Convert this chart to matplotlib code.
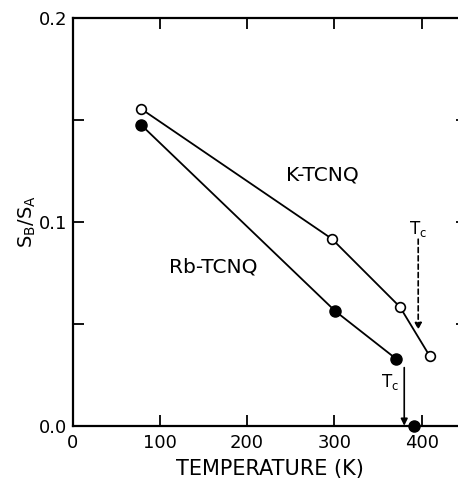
import matplotlib
matplotlib.use("Agg")
import matplotlib.pyplot as plt
from matplotlib.ticker import FixedLocator

# Data
k_temp = [78, 297, 375, 409]
k_ratio = [0.1556, 0.0917, 0.0583, 0.0343]
rb_temp = [79, 301, 371]
rb_ratio = [0.1474, 0.0562, 0.0327]
rb_tc_temp = [391]
rb_tc_ratio = [0.0]
tc_k = 396
tc_rb = 380
x_ticks = [0, 100, 200, 300, 400]
y_ticks = [0.0, 0.1, 0.2]
y_tick_labels = ["0.0", "0.1", "0.2"]
y_minor = [0.05, 0.15]

plt.rcParams['font.family'] = ['DejaVu Sans']
fig = plt.figure(figsize=(4.58, 4.86), dpi=100)
W, H = 458, 486
x0, x1 = 72.5, 467
y0, y1 = 425.7, 18
ax = fig.add_axes([x0 / W, 1 - y0 / H, (x1 - x0) / W, (y0 - y1) / H])
ax.set_xlim(0, (x1 - x0) / 0.873)
ax.set_ylim(0, 0.2)

ax.plot(k_temp, k_ratio, color='black', lw=1.3, marker='o', ms=7,
        mfc='white', mec='black', mew=1.2, zorder=3)
ax.plot(rb_temp, rb_ratio, color='black', lw=1.3, marker='o', ms=8,
        mfc='black', mec='black', zorder=3)
ax.plot(rb_tc_temp, rb_tc_ratio, ls='none', marker='o', ms=8,
        mfc='black', mec='black', zorder=4, clip_on=False)

# Tc arrows
ax.annotate('', xy=(tc_rb, 0.0), xytext=(tc_rb, 0.0285),
            arrowprops=dict(arrowstyle='-|>', color='black', lw=1.2,
                            mutation_scale=10, shrinkA=0, shrinkB=0))
ax.annotate('', xy=(tc_k, 0.0470), xytext=(tc_k, 0.0915),
            arrowprops=dict(arrowstyle='-|>', color='black', lw=1.2,
                            ls=(0, (3, 2)), mutation_scale=10,
                            shrinkA=0, shrinkB=0))
ax.text(tc_rb - 16, 0.0214, r'$\mathregular{T_c}$', fontsize=12,
        ha='center', va='center')
ax.text(tc_k, 0.0965, r'$\mathregular{T_c}$', fontsize=12,
        ha='center', va='center')

ax.text(286, 0.123, 'K-TCNQ', fontsize=14.5, ha='center', va='center')
ax.text(161, 0.078, 'Rb-TCNQ', fontsize=14.5, ha='center', va='center')

for s in ['left', 'bottom', 'top']:
    ax.spines[s].set_linewidth(1.6)
ax.spines['right'].set_visible(False)

ax.set_xticks(x_ticks)
ax.set_yticks(y_ticks)
ax.set_yticklabels(y_tick_labels)
ax.yaxis.set_minor_locator(FixedLocator(y_minor))
ax.tick_params(axis='both', which='both', direction='in', length=8,
               width=1.3, labelsize=13)
ax.tick_params(axis='x', which='major', top=True, labeltop=False, pad=6)
ax.tick_params(axis='y', which='both', right=True, labelright=False, pad=4)

ax.set_xlabel('TEMPERATURE (K)', fontsize=15, labelpad=5)
ax.set_ylabel(r'$\mathregular{S_B/S_A}$', fontsize=14, labelpad=0)

fig.savefig('out.png', dpi=100)
